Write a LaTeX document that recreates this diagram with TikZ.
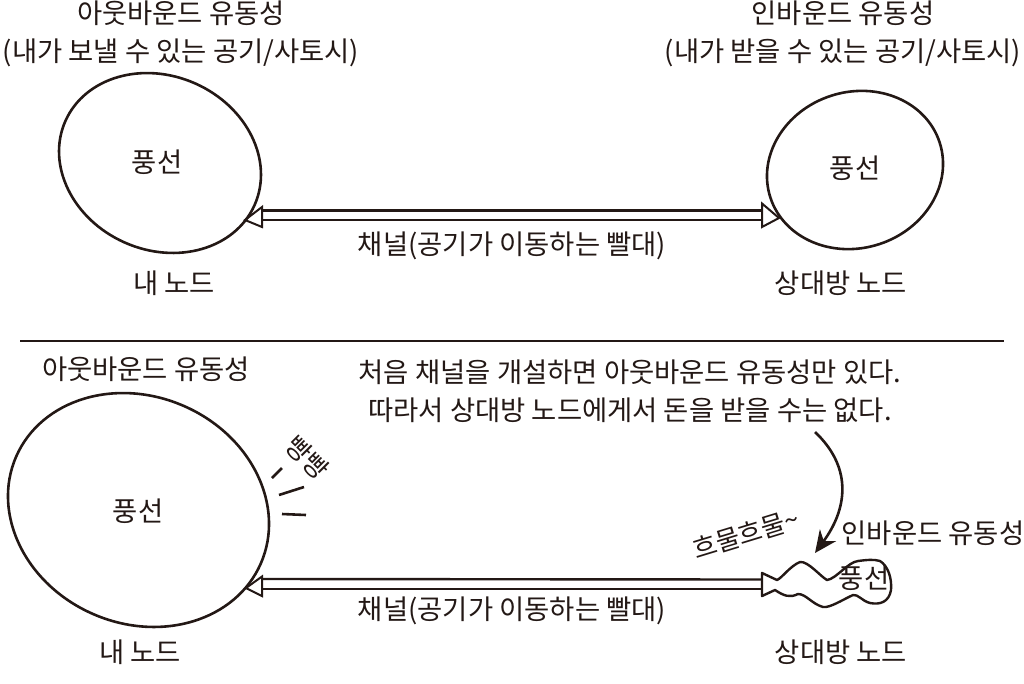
\documentclass[tikz,border=0pt]{standalone}
\usepackage{fontspec}
\setmainfont{Noto Sans CJK KR}
\usetikzlibrary{shapes.geometric,arrows.meta}
\definecolor{ink}{HTML}{231815}
\tikzset{
  every node/.style={text=ink,inner sep=0pt,align=center},
  lab/.style={font=\fontsize{27.4}{38}\selectfont},
  small/.style={font=\fontsize{26}{28}\selectfont},
  balloon/.style={draw=ink,line width=2.6pt,shape=ellipse,inner sep=0pt},
  rail/.style={draw=ink,line width=2.4pt},
  headtri/.style={draw=ink,line width=2pt,fill=white,line join=miter},
  tick/.style={draw=ink,line width=2.6pt},
  blob/.style={draw=ink,line width=2.4pt,line join=round,fill=white}
}
\begin{document}
\begin{tikzpicture}[x=1pt,y=-1pt]
\useasboundingbox (0,0) rectangle (1024,683);
% top
\node[lab] (tl) at (181,34) {아웃바운드 유동성\\(내가 보낼 수 있는 공기/사토시)};
\node[lab] (tr) at (843,34) {인바운드 유동성\\(내가 받을 수 있는 공기/사토시)};
\coordinate (a1u) at (262,210.5); \coordinate (a1d) at (262,220);
\coordinate (a2u) at (762,210.5); \coordinate (a2d) at (762,220);
\coordinate (t1) at (245,220); \coordinate (t1a) at (262,207); \coordinate (t1b) at (262,227);
\coordinate (t2) at (779,218); \coordinate (t2a) at (762,203.5); \coordinate (t2b) at (762,227);
\draw[rail] (a1u) -- (a2u);
\draw[rail] (a1d) -- (a2d);
\draw[headtri] (t1) -- (t1a) -- (t1b) -- cycle;
\draw[headtri] (t2) -- (t2a) -- (t2b) -- cycle;
\node[balloon,minimum width=207pt,minimum height=174pt,rotate=-24] (b1) at (160,163) {};
\node[balloon,minimum width=178pt,minimum height=156pt,rotate=18] (b2) at (855,170) {};
\node[lab] (p1) at (157,162) {풍선};
\node[lab] (p2) at (855,168) {풍선};
\node[lab] (c1) at (512,246) {채널(공기가 이동하는 빨대)};
\node[lab] (n1) at (174,283) {내 노드};
\node[lab] (n2) at (841,283) {상대방 노드};
% divider
\coordinate (d1) at (20,341); \coordinate (d2) at (1004,341);
\draw[draw=ink,line width=2.4pt] (d1) -- (d2);
% bottom
\node[lab] (bl) at (146,369) {아웃바운드 유동성};
\node[lab] (msg) at (630,391) {처음 채널을 개설하면 아웃바운드 유동성만 있다.\\따라서 상대방 노드에게서 돈을 받을 수는 없다.};
\coordinate (a3u) at (262,579); \coordinate (a3d) at (262,589);
\coordinate (a4u) at (762,579.5); \coordinate (a4d) at (762,589);
\coordinate (t3) at (246,588); \coordinate (t3a) at (262,576.5); \coordinate (t3b) at (262,596);
\draw[rail] (a3u) -- (a4u);
\draw[rail] (a3d) -- (a4d);
\draw[headtri] (t3) -- (t3a) -- (t3b) -- cycle;
\node[balloon,minimum width=267pt,minimum height=227pt,rotate=-23.6] (b3) at (138.5,510) {};
\node[lab] (p3) at (138,511) {풍선};
\node[small,rotate=-45] (bang) at (307,458) {빵빵};
\coordinate (k1a) at (272,478); \coordinate (k1b) at (282,468);
\coordinate (k2a) at (279,495); \coordinate (k2b) at (304,487);
\coordinate (k3a) at (282,514); \coordinate (k3b) at (306,515);
\draw[tick] (k1a) -- (k1b);
\draw[tick] (k2a) -- (k2b);
\draw[tick] (k3a) -- (k3b);
\draw[blob] (762,573) -- (777,580)
  .. controls (782,578) and (790,566) .. (800,562)
  .. controls (808,561) and (820,576) .. (827,580)
  .. controls (836,579) and (848,562) .. (858,561)
  .. controls (866,560) and (874,559) .. (880,561)
  .. controls (888,566) and (892,578) .. (891,590)
  .. controls (889,602) and (880,605) .. (870,603)
  .. controls (862,601) and (858,594) .. (853,595)
  .. controls (842,600) and (830,608) .. (823,607)
  .. controls (812,604) and (806,594) .. (798,594)
  .. controls (790,598) and (784,596) .. (775,590)
  -- (762,596) -- cycle;
\node[lab] (p4) at (864,578) {풍선};
\node[lab] (in) at (933,533) {인바운드 유동성};
\node[small,rotate=17] (hh) at (746,534) {흐물흐물\textasciitilde};
\coordinate (cs) at (815,432); \coordinate (ce) at (815,553);
\draw[draw=ink,line width=2.6pt,-{Stealth[length=22pt,width=20pt]}] (cs) .. controls (850,465) and (850,505) .. (ce);
\node[lab] (c2) at (512,611) {채널(공기가 이동하는 빨대)};
\node[lab] (n3) at (140,652) {내 노드};
\node[lab] (n4) at (841,652) {상대방 노드};
\end{tikzpicture}
\end{document}
